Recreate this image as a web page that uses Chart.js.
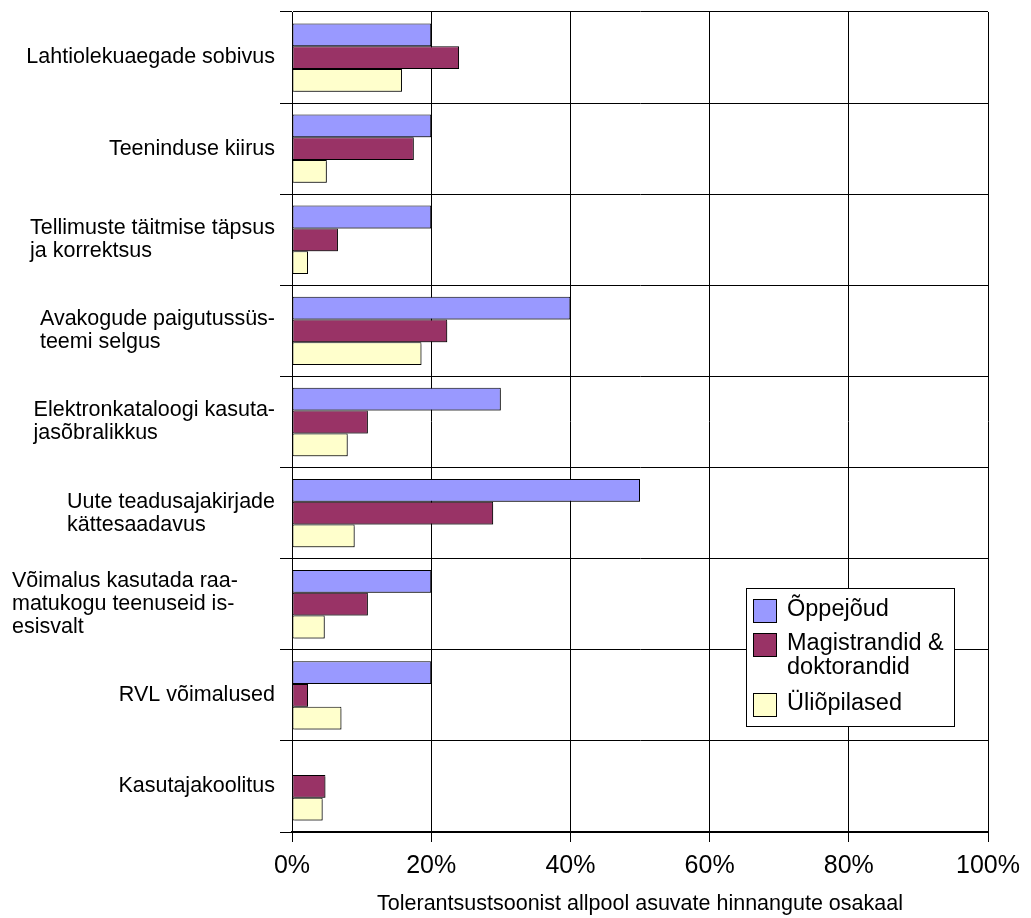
<!DOCTYPE html>
<html>
<head>
<meta charset="utf-8">
<script src="https://cdn.jsdelivr.net/npm/chart.js@4/dist/chart.umd.min.js"></script>
<style>
  html, body { margin: 0; padding: 0; background: #fff; }
  #wrap { width: 1031px; height: 918px; }
</style>
</head>
<body>
<div id="wrap"><canvas id="chart" width="1031" height="918"></canvas></div>
<script>
// Category labels (pre-wrapped lines, as in the printed report)
const categories = [
  'Lahtiolekuaegade sobivus',
  'Teeninduse kiirus',
  ['Tellimuste täitmise täpsus', 'ja korrektsus'],
  ['Avakogude paigutussüs-', 'teemi selgus'],
  ['Elektronkataloogi kasuta-', 'jasõbralikkus'],
  ['Uute teadusajakirjade', 'kättesaadavus'],
  ['Võimalus kasutada raa-', 'matukogu teenuseid is-', 'esisvalt'],
  'RVL võimalused',
  'Kasutajakoolitus'
];

// Series names
const seriesNames = ['Õppejõud', 'Magistrandid & doktorandid', 'Üliõpilased'];

// Share of ratings below the tolerance zone, % per user group
const oppejoud     = [20, 20, 20, 40, 30, 50, 20, 20, 0];
const magistrandid = [24, 17.5, 6.6, 22.3, 10.9, 28.9, 10.9, 2.3, 4.8];
const yliopilased  = [15.8, 5.0, 2.3, 18.6, 8.0, 9.0, 4.7, 7.1, 4.4];

// Value axis ticks (%)
const percentTicks = [0, 20, 40, 60, 80, 100];
const valueAxisTitle = 'Tolerantsustsoonist allpool asuvate hinnangute osakaal';

const FONT = '"Liberation Sans", Arial, Helvetica, sans-serif';
Chart.defaults.font.family = FONT;
Chart.defaults.color = '#000';

// Category labels: each block left-aligned, block ending just left of the axis.
// Long (3+ line) labels sit in a fixed-width wrap box.
const categoryLabels = {
  id: 'categoryLabels',
  afterDraw(chart) {
    const { ctx } = chart;
    const y = chart.scales.y;
    ctx.save();
    ctx.font = '21.5px ' + FONT;
    ctx.fillStyle = '#000';
    ctx.textBaseline = 'middle';
    ctx.textAlign = 'left';
    const lineH = 23;
    const right = y.right - 17;
    const wrapBox = 263;
    y.getLabels().forEach((lab, i) => {
      const lines = Array.isArray(lab) ? lab : [lab];
      let w = Math.max(...lines.map(l => ctx.measureText(l).width));
      if (lines.length > 2) w = Math.max(w, wrapBox);
      const cy = y.getPixelForValue(i);
      const x0 = right - w;
      lines.forEach((l, k) => {
        ctx.fillText(l, x0, cy + (k - (lines.length - 1) / 2) * lineH);
      });
    });
    ctx.restore();
  }
};

// Boxed legend inside the plot area
const boxLegend = {
  id: 'boxLegend',
  afterDraw(chart) {
    const { ctx } = chart;
    const box = { left: 746, top: 588, right: 954, bottom: 726 };
    ctx.save();
    ctx.font = '23.5px ' + FONT;
    // wrap long series names
    const wrap = (text, maxW) => {
      const words = text.split(' ');
      const lines = [];
      let cur = '';
      words.forEach(wd => {
        const t = cur ? cur + ' ' + wd : wd;
        if (cur && ctx.measureText(t).width > maxW) { lines.push(cur); cur = wd; }
        else cur = t;
      });
      if (cur) lines.push(cur);
      return lines;
    };
    ctx.fillStyle = '#fff';
    ctx.fillRect(box.left, box.top, box.right - box.left, box.bottom - box.top);
    ctx.strokeStyle = '#000';
    ctx.lineWidth = 1;
    ctx.strokeRect(box.left + 0.5, box.top + 0.5, box.right - box.left, box.bottom - box.top);

    let cur = box.top + 11;
    chart.data.datasets.forEach(ds => {
      const lines = wrap(ds.label, 165);
      ctx.fillStyle = ds.backgroundColor;
      ctx.fillRect(753, cur, 24, 24);
      ctx.strokeStyle = '#000';
      ctx.strokeRect(753.5, cur + 0.5, 23, 23);
      ctx.fillStyle = '#000';
      ctx.textBaseline = 'middle';
      ctx.textAlign = 'left';
      lines.forEach((l, k) => ctx.fillText(l, 787, cur + 11 + k * 24));
      cur += 34 + (lines.length - 1) * 26;
    });
    ctx.restore();
  }
};

// Light drop shadow under the bars
const barShadow = {
  id: 'barShadow',
  beforeDatasetsDraw(chart) {
    const c = chart.ctx;
    c.save();
    c.shadowColor = 'rgba(0,0,0,0.35)';
    c.shadowOffsetX = 2;
    c.shadowOffsetY = 2;
    c.shadowBlur = 0;
  },
  afterDatasetsDraw(chart) {
    chart.ctx.restore();
  }
};

const colors = ['#9999FF', '#993366', '#FFFFCC'];
const seriesValues = [oppejoud, magistrandid, yliopilased];

new Chart(document.getElementById('chart'), {
  type: 'bar',
  data: {
    labels: categories,
    datasets: seriesNames.map((name, i) => ({
      label: name,
      data: seriesValues[i],
      backgroundColor: colors[i],
      borderColor: '#000',
      borderWidth: 1,
      borderSkipped: false,
      categoryPercentage: 0.75,
      barPercentage: 1.0
    }))
  },
  options: {
    indexAxis: 'y',
    responsive: false,
    animation: false,
    layout: { padding: { top: 12, right: 43, left: 0, bottom: 0 } },
    plugins: {
      legend: { display: false },
      tooltip: { enabled: false }
    },
    scales: {
      x: {
        min: 0,
        max: 100,
        afterBuildTicks(scale) {
          scale.ticks = percentTicks.map(v => ({ value: v }));
        },
        ticks: {
          callback: v => v + '%',
          font: { size: 25 },
          color: '#000',
          padding: 9,
          maxRotation: 0
        },
        grid: { color: '#000', lineWidth: 1, drawTicks: true, tickLength: 10 },
        border: { display: true, color: '#000', width: 2 },
        title: {
          display: true,
          text: valueAxisTitle,
          font: { size: 21.5 },
          color: '#000',
          padding: { top: 0, bottom: 1 }
        },
        afterFit(scale) {
          scale.height = 86;
          scale.paddingLeft = 0;
          scale.paddingRight = 0;
        }
      },
      y: {
        type: 'category',
        offset: true,
        grid: { offset: true, color: '#000', lineWidth: 1, drawTicks: true, tickLength: 12 },
        border: { display: true, color: '#000', width: 1 },
        ticks: { display: false },
        afterFit(scale) {
          scale.width = 292;
        }
      }
    }
  },
  plugins: [barShadow, categoryLabels, boxLegend]
});
</script>
</body>
</html>
